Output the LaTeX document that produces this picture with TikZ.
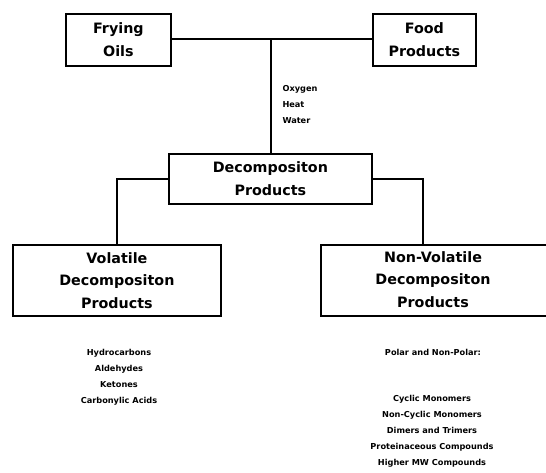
\documentclass[tikz,border=0pt]{standalone}
\usepackage{fontspec}
\setmainfont{DejaVu Sans}
\begin{document}
\begin{tikzpicture}[x=1pt,y=-1pt,
  box/.style={draw,line width=1.8pt,inner sep=0pt},
  conn/.style={line width=1.8pt},
  boxtext/.style={font=\bfseries\fontsize{14.3}{22.5}\selectfont,align=center},
  small/.style={font=\bfseries\fontsize{8.2}{16}\selectfont,align=center}]
\useasboundingbox (0,0) rectangle (546,473);
\clip (0,0) rectangle (546,473);
% boxes
\node[box,minimum width=105pt,minimum height=52pt,anchor=north west] (fry) at (65,13) {};
\node[boxtext] at (fry.center) {Frying\\Oils};
\node[box,minimum width=103pt,minimum height=52pt,anchor=north west] (food) at (372,13) {};
\node[boxtext] at (food.center) {Food\\Products};
\node[box,minimum width=203pt,minimum height=50pt,anchor=north west] (dec) at (168,153) {};
\node[boxtext] at (dec.center) {Decompositon\\Products};
\node[box,minimum width=208pt,minimum height=71pt,anchor=north west] (vol) at (12,244) {};
\node[boxtext] at (vol.center) {Volatile\\Decompositon\\Products};
\node[box,minimum width=240pt,minimum height=71pt,anchor=north west] (nvol) at (320,244) {};
\node[boxtext] at (433,279.5) {Non-Volatile\\Decompositon\\Products};
% connectors
\coordinate (j) at (271,39);
\draw[conn] (fry.east |- j) -- (food.west |- j);
\draw[conn] (j) -- (j |- dec.north);
\draw[conn] (dec.west |- 0,179) -| (117,0 |- vol.north);
\draw[conn] (dec.east |- 0,179) -| (423,0 |- nvol.north);
% labels
\node[small,align=left,anchor=north west] (ohw) at (279,82) {Oxygen\\Heat\\Water};
\node[small,anchor=north] (vlist) at (119,346) {Hydrocarbons\\Aldehydes\\Ketones\\Carbonylic Acids};
\node[small,anchor=north] (pol) at (433,346) {Polar and Non-Polar:};
\node[small,anchor=north] (nvlist) at (432,392) {Cyclic Monomers\\Non-Cyclic Monomers\\Dimers and Trimers\\Proteinaceous Compounds\\Higher MW Compounds};
\end{tikzpicture}
\end{document}
